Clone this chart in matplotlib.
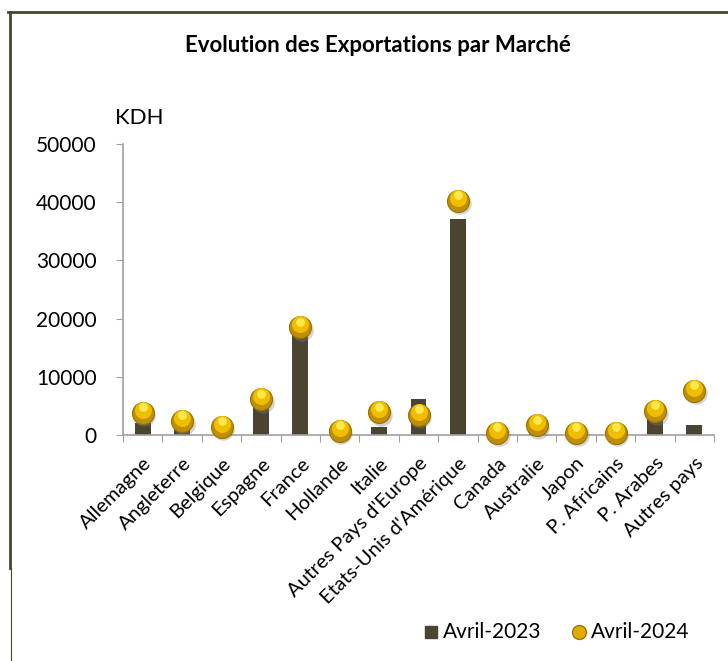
import matplotlib
matplotlib.use("Agg")
import matplotlib.pyplot as plt
from matplotlib.transforms import offset_copy
from matplotlib.lines import Line2D
import numpy as np

plt.rcParams['font.family'] = ['Lato', 'DejaVu Sans']

categories = ["Allemagne", "Angleterre", "Belgique", "Espagne", "France", "Hollande",
              "Italie", "Autres Pays d'Europe", "Etats-Unis d'Amérique", "Canada",
              "Australie", "Japon", "P. Africains", "P. Arabes", "Autres pays"]
avril_2023 = [2100, 1150, 900, 4870, 17200, 300, 1320, 6190, 37170, 100, 800, 150, 150, 2800, 1660]
avril_2024 = [3830, 2400, 1430, 6130, 18500, 690, 3900, 3440, 40260, 400, 1660, 400, 400, 4120, 7620]
y_ticks = [0, 10000, 20000, 30000, 40000, 50000]

W, H = 728, 661
fig = plt.figure(figsize=(W / 100, H / 100), dpi=100)
ax = fig.add_axes([123 / W, 1 - 435 / H, (714 - 123) / W, (435 - 144) / H])

x = np.arange(len(categories))
bar_color = '#4b4430'
ax.bar(x, avril_2023, width=0.4, color=bar_color, zorder=2)

# gold balls
shadow_tr = offset_copy(ax.transData, fig=fig, x=1.2, y=-1.8, units='points')
hl_tr = offset_copy(ax.transData, fig=fig, x=0, y=2.2, units='points')
spec_tr = offset_copy(ax.transData, fig=fig, x=0, y=4.0, units='points')
ax.scatter(x, avril_2024, s=260, color='#808080', alpha=0.35, linewidths=0,
           transform=shadow_tr, zorder=3, clip_on=False)
ax.scatter(x, avril_2024, s=250, color='#c08e00', edgecolors='#9a7200', linewidths=0.8,
           zorder=4, clip_on=False)
ax.scatter(x, avril_2024, s=150, color='#f0be00', linewidths=0,
           transform=hl_tr, zorder=5, clip_on=False)
ax.scatter(x, avril_2024, s=40, color='#ffe94a', linewidths=0,
           transform=spec_tr, zorder=6, clip_on=False)

ax.set_xlim(-0.5, len(categories) - 0.5)
ax.set_ylim(0, 50000)
ax.set_yticks(y_ticks)
ax.set_yticklabels([str(v) for v in y_ticks], fontsize=15)
ax.set_xticks(np.arange(len(categories) + 1) - 0.5)
ax.set_xticklabels([])
ax.set_xticks(x, minor=True)
ax.set_xticklabels(categories, minor=True, rotation=45, ha='right', va='top',
                   rotation_mode='anchor', fontsize=14.5)
ax.tick_params(axis='x', which='minor', length=0, pad=14)
ax.tick_params(axis='x', which='major', length=5, color='#a0a0a0', direction='out')
ax.tick_params(axis='y', length=5, color='#a0a0a0', direction='out', pad=14)
for s in ['top', 'right']:
    ax.spines[s].set_visible(False)
for s in ['left', 'bottom']:
    ax.spines[s].set_color('#a0a0a0')
    ax.spines[s].set_linewidth(1.2)

fig.text(115 / W, 1 - 118 / H, 'KDH', fontsize=16, ha='left', va='center')
fig.text(378 / W, 1 - 46 / H, 'Evolution des Exportations par Marché', fontsize=16,
         fontweight='bold', ha='center', va='center')

# frame
fig.add_artist(Line2D([8 / W, 1.0], [1 - 12 / H, 1 - 12 / H], color='#4b4430', lw=2,
                      transform=fig.transFigure))
fig.add_artist(Line2D([10 / W, 10 / W], [1 - 12 / H, 1 - 568 / H], color='#4b4430', lw=2,
                      transform=fig.transFigure))
fig.add_artist(Line2D([11 / W, 11 / W], [1 - 568 / H, 0], color='#4b4430', lw=0.8,
                      transform=fig.transFigure))

# legend
ly = 1 - 632 / H
fig.add_artist(Line2D([431 / W], [ly], marker='s', markersize=9, color=bar_color,
                      linestyle='none', transform=fig.transFigure))
fig.text(443 / W, ly, 'Avril-2023', fontsize=15, ha='left', va='center')
fig.add_artist(Line2D([579 / W], [ly], marker='o', markersize=10, color='#e0ac00',
                      markeredgecolor='#a07800', linestyle='none', transform=fig.transFigure))
fig.text(591 / W, ly, 'Avril-2024', fontsize=15, ha='left', va='center')

fig.savefig('out.png', dpi=100)
